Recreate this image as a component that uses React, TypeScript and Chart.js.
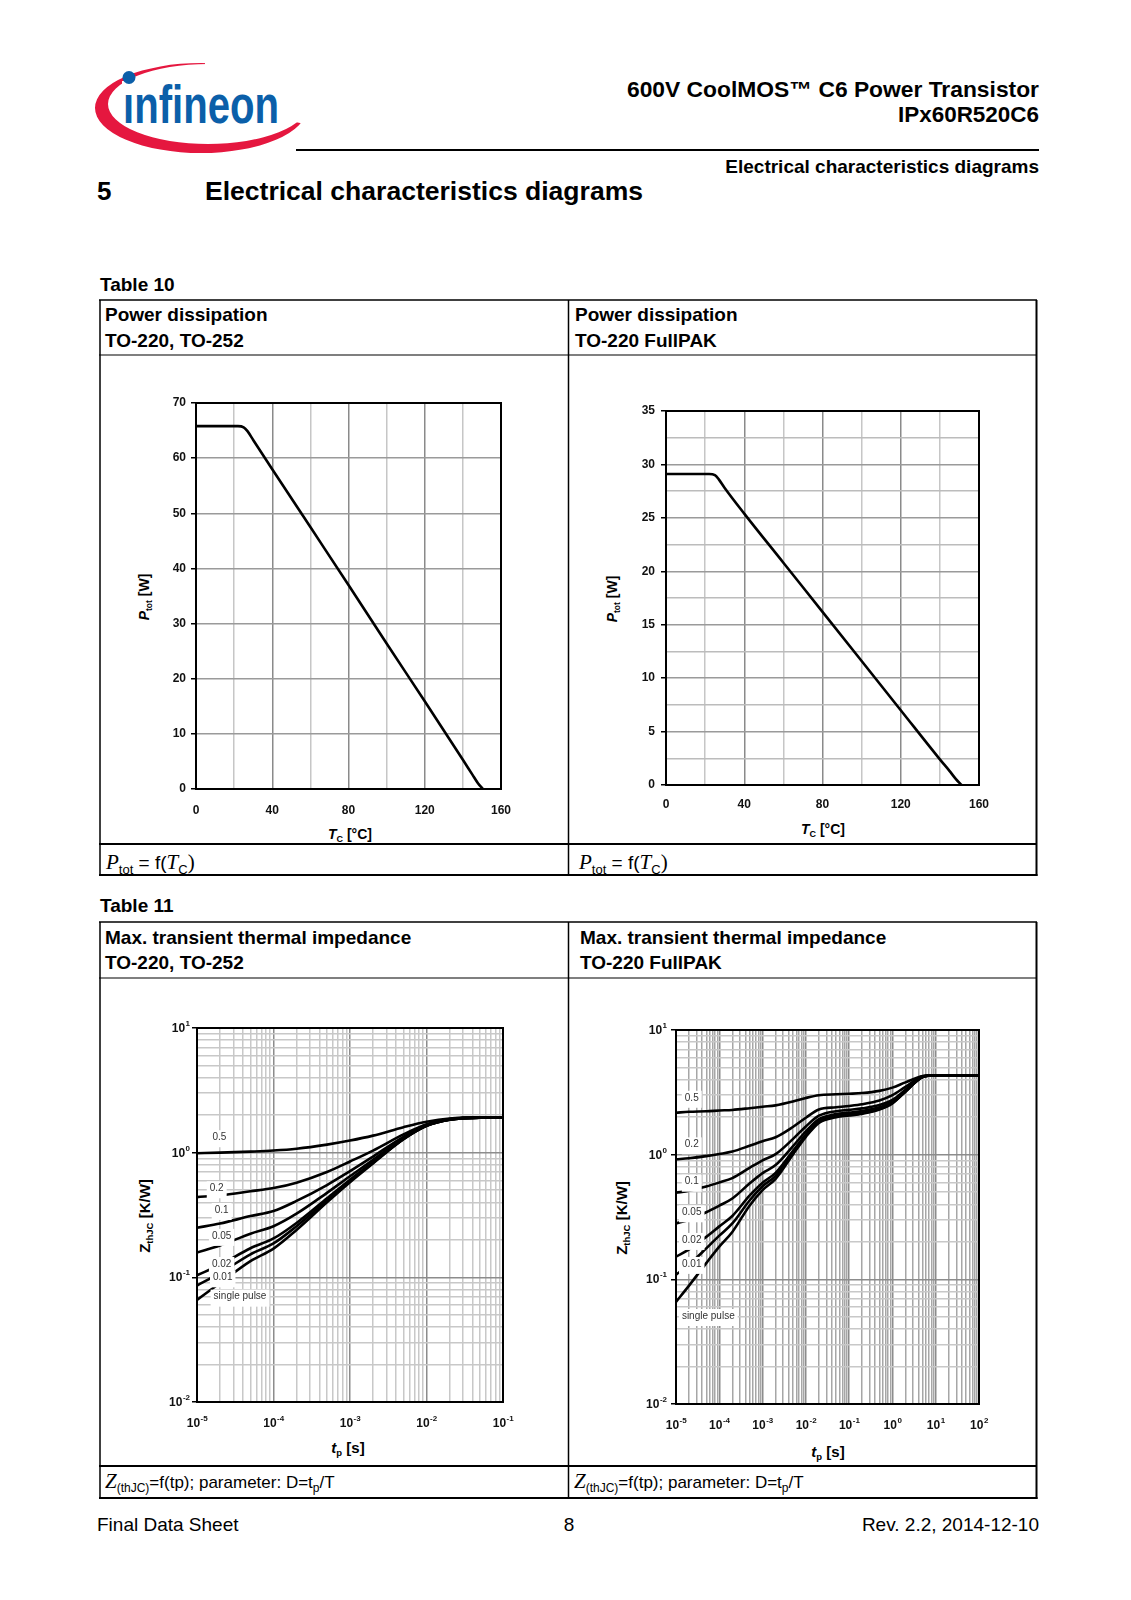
import React, { useEffect, useRef } from "react";
import { Chart, registerables } from "chart.js";

Chart.register(...registerables);

const SANS = "'Liberation Sans', Arial, Helvetica, sans-serif";
const SERIF = "'Liberation Serif', 'Times New Roman', serif";
Chart.defaults.font.family = SANS;

// ---------------- Table 10: power dissipation ----------------
const TC_TICK_LABELS = [0, 40, 80, 120, 160];

const PTOT1_TC = [0, 22, 25, 27, 30, 40, 60, 80, 100, 120, 140, 145, 148, 150.5];
const PTOT1_W = [65.8, 65.8, 65.6, 64.9, 63.3, 58.0, 47.5, 37.0, 26.4, 15.9, 5.3, 2.6, 1.0, 0];
const PTOT1_TICK_LABELS = [0, 10, 20, 30, 40, 50, 60, 70];

const PTOT2_TC = [0, 22, 25, 27, 30, 40, 60, 80, 100, 120, 140, 145, 148, 151];
const PTOT2_W = [29.1, 29.1, 29.0, 28.6, 27.8, 25.4, 20.8, 16.2, 11.6, 7.0, 2.4, 1.3, 0.6, 0];
const PTOT2_TICK_LABELS = [0, 5, 10, 15, 20, 25, 30, 35];

// ---------------- Table 11: transient thermal impedance ----------------
const D_LABELS = ["0.5", "0.2", "0.1", "0.05", "0.02", "0.01", "single pulse"];
const Y_EXPONENTS = [-2, -1, 0, 1];

// TO-220, TO-252
const X3_EXPONENTS = [-5, -4, -3, -2, -1];
const ZTH1_TP = [1e-5, 2e-5, 5e-5, 1e-4, 2e-4, 5e-4, 1e-3, 2e-3, 5e-3, 1e-2, 2e-2, 5e-2, 1e-1];
const ZTH1_D05 = [0.99, 1.0, 1.02, 1.04, 1.075, 1.16, 1.25, 1.37, 1.6, 1.77, 1.88, 1.91, 1.91];
const ZTH1_D02 = [0.44, 0.455, 0.49, 0.52, 0.575, 0.7, 0.85, 1.04, 1.4, 1.69, 1.86, 1.91, 1.91];
const ZTH1_D01 = [0.25, 0.27, 0.31, 0.34, 0.41, 0.55, 0.71, 0.93, 1.34, 1.67, 1.85, 1.91, 1.91];
const ZTH1_D005 = [0.158, 0.18, 0.224, 0.257, 0.324, 0.476, 0.647, 0.875, 1.31, 1.65, 1.845, 1.91, 1.91];
const ZTH1_D002 = [0.104, 0.126, 0.171, 0.205, 0.273, 0.43, 0.607, 0.842, 1.29, 1.645, 1.84, 1.91, 1.91];
const ZTH1_D001 = [0.086, 0.108, 0.153, 0.187, 0.257, 0.415, 0.593, 0.831, 1.285, 1.643, 1.84, 1.91, 1.91];
const ZTH1_SP = [0.066, 0.09, 0.135, 0.17, 0.24, 0.4, 0.58, 0.82, 1.28, 1.64, 1.84, 1.91, 1.91];
const LABEL1_TP = [1.96e-5, 1.81e-5, 2.1e-5, 2.1e-5, 2.1e-5, 2.17e-5, 3.65e-5];
const LABEL1_Z = [1.33, 0.518, 0.347, 0.215, 0.128, 0.1, 0.07];

// TO-220 FullPAK
const X4_EXPONENTS = [-5, -4, -3, -2, -1, 0, 1, 2];
const ZTH2_TP = [1e-5, 2e-5, 5e-5, 1e-4, 2e-4, 5e-4, 1e-3, 2e-3, 5e-3, 1e-2, 2e-2, 5e-2, 1e-1, 2e-1, 5e-1, 1, 2, 5, 10, 100];
const ZTH2_D05 = [2.17, 2.21, 2.23, 2.26, 2.285, 2.36, 2.425, 2.485, 2.665, 2.85, 3.0, 3.05, 3.08, 3.12, 3.25, 3.45, 3.8, 4.27, 4.33, 4.33];
const ZTH2_D02 = [0.918, 0.937, 0.974, 1.012, 1.058, 1.178, 1.282, 1.378, 1.666, 1.978, 2.306, 2.4, 2.46, 2.54, 2.72, 3.0, 3.5, 4.25, 4.33, 4.33];
const ZTH2_D01 = [0.495, 0.513, 0.555, 0.598, 0.649, 0.784, 0.901, 1.009, 1.333, 1.684, 2.053, 2.233, 2.287, 2.35, 2.503, 2.755, 3.313, 4.213, 4.33, 4.33];
const ZTH2_D005 = [0.281, 0.301, 0.345, 0.39, 0.445, 0.587, 0.711, 0.825, 1.167, 1.537, 1.927, 2.117, 2.174, 2.24, 2.402, 2.668, 3.257, 4.21, 4.33, 4.33];
const ZTH2_D002 = [0.152, 0.174, 0.219, 0.266, 0.322, 0.469, 0.596, 0.714, 1.067, 1.449, 1.851, 2.047, 2.105, 2.174, 2.341, 2.615, 3.223, 4.2, 4.33, 4.33];
const ZTH2_D001 = [0.109, 0.131, 0.177, 0.224, 0.281, 0.429, 0.558, 0.677, 1.033, 1.419, 1.825, 2.023, 2.083, 2.152, 2.32, 2.597, 3.211, 4.2, 4.33, 4.33];
const ZTH2_SP = [0.066, 0.089, 0.135, 0.183, 0.24, 0.39, 0.52, 0.64, 1.0, 1.39, 1.8, 2.0, 2.06, 2.13, 2.3, 2.58, 3.2, 4.2, 4.33, 4.33];
const LABEL2_TP = [2.31e-5, 2.31e-5, 2.31e-5, 2.31e-5, 2.31e-5, 2.31e-5, 5.57e-5];
const LABEL2_Z = [2.86, 1.21, 0.607, 0.345, 0.207, 0.133, 0.0508];

// ---------------- helpers ----------------
const inList = (list: number[], v: number) => list.some((l) => Math.abs(l - v) < 1e-9);
const isPow10 = (v: number) => {
  const l = Math.log10(v);
  return Math.abs(l - Math.round(l)) < 1e-6;
};
function logTickValues(a: number, b: number) {
  const out: number[] = [];
  for (let e = a; e < b; e++) for (let m = 1; m < 10; m++) out.push(Number((m * Math.pow(10, e)).toPrecision(6)));
  out.push(Math.pow(10, b));
  return out;
}

const framePlugin = {
  id: "frame",
  afterDatasetsDraw(chart: any) {
    const { ctx, chartArea: a } = chart;
    ctx.save();
    ctx.strokeStyle = "#000";
    ctx.lineWidth = 2;
    ctx.strokeRect(a.left, a.top, a.right - a.left, a.bottom - a.top);
    ctx.restore();
  },
};

function powLabels(xExps: number[], yExps: number[], yGap: number, xBase: number) {
  return {
    id: "powLabels",
    afterDraw(chart: any) {
      const { ctx, chartArea: a } = chart;
      const xs = chart.scales.x;
      const ys = chart.scales.y;
      const big = `bold 12px ${SANS}`;
      const small = `bold 8px ${SANS}`;
      ctx.save();
      ctx.fillStyle = "#111";
      ctx.textAlign = "left";
      ctx.textBaseline = "alphabetic";
      const widths = (e: number) => {
        ctx.font = big;
        const wb = ctx.measureText("10").width;
        ctx.font = small;
        const we = ctx.measureText(String(e)).width;
        return [wb, we];
      };
      const draw = (e: number, left: number, base: number, wb: number) => {
        ctx.font = big;
        ctx.fillText("10", left, base);
        ctx.font = small;
        ctx.fillText(String(e), left + wb + 0.5, base - 6);
      };
      for (const e of yExps) {
        const y = ys.getPixelForValue(Math.pow(10, e));
        const [wb, we] = widths(e);
        draw(e, a.left - yGap - we - wb - 0.5, y + 4, wb);
      }
      for (const e of xExps) {
        const x = xs.getPixelForValue(Math.pow(10, e));
        const [wb, we] = widths(e);
        draw(e, x - (wb + we) / 2, a.bottom + xBase, wb);
      }
      ctx.restore();
    },
  };
}

function curveLabels(labels: string[], lx: number[], ly: number[]) {
  return {
    id: "curveLabels",
    afterDraw(chart: any) {
      const { ctx } = chart;
      const xs = chart.scales.x;
      const ys = chart.scales.y;
      ctx.save();
      ctx.font = `10px ${SANS}`;
      ctx.textAlign = "center";
      ctx.textBaseline = "middle";
      labels.forEach((t, i) => {
        const px = xs.getPixelForValue(lx[i]);
        const py = ys.getPixelForValue(ly[i]);
        const w = ctx.measureText(t).width;
        ctx.fillStyle = "#fff";
        ctx.fillRect(px - w / 2 - 3, py - 7, w + 6, 17);
        ctx.fillStyle = "#333";
        ctx.fillText(t, px, py);
      });
      ctx.restore();
    },
  };
}

const tickFont = { family: SANS, size: 12, weight: "bold" as const };

function powerConfig(o: {
  tc: number[];
  p: number[];
  yMax: number;
  yStep: number;
  yLabels: number[];
  yMinor: string;
  pad: number;
  yWidth: number;
  xHeight: number;
  xDrop: number;
  yPad: number;
}): any {
  return {
    type: "line",
    data: {
      datasets: [
        {
          data: o.tc.map((x, i) => ({ x, y: o.p[i] })),
          borderColor: "#000",
          borderWidth: 2.6,
          pointRadius: 0,
          cubicInterpolationMode: "monotone",
          fill: false,
        },
      ],
    },
    options: {
      responsive: false,
      animation: false,
      devicePixelRatio: 1,
      layout: { padding: { left: 0, top: o.pad, right: o.pad, bottom: 0 } },
      plugins: { legend: { display: false }, tooltip: { enabled: false } },
      scales: {
        x: {
          type: "linear",
          min: 0,
          max: 160,
          border: { display: false },
          ticks: {
            stepSize: 20,
            autoSkip: false,
            maxRotation: 0,
            padding: 0,
            color: "#111",
            font: tickFont,
            callback: (v: number) => (inList(TC_TICK_LABELS, v) ? String(v) : ""),
          },
          grid: {
            drawTicks: true,
            tickLength: o.xDrop,
            tickColor: "rgba(0,0,0,0)",
            lineWidth: 1.5,
            color: (c: any) => (c.tick && inList(TC_TICK_LABELS, c.tick.value) ? "#8a8a8a" : "#c6c6c6"),
          },
          afterFit: (s: any) => {
            s.height = o.xHeight;
          },
        },
        y: {
          type: "linear",
          min: 0,
          max: o.yMax,
          border: { display: false },
          ticks: {
            stepSize: o.yStep,
            autoSkip: false,
            padding: o.yPad,
            color: "#111",
            font: tickFont,
            callback: (v: number) => (inList(o.yLabels, v) ? String(v) : ""),
          },
          grid: {
            tickLength: 5,
            lineWidth: 1.5,
            color: (c: any) => (c.tick && inList(o.yLabels, c.tick.value) ? "#9a9a9a" : o.yMinor),
            tickColor: (c: any) => (c.tick && inList(o.yLabels, c.tick.value) ? "#000" : "rgba(0,0,0,0)"),
          },
          afterFit: (s: any) => {
            s.width = o.yWidth;
          },
        },
      },
    },
    plugins: [framePlugin],
  };
}

function zthConfig(o: {
  tp: number[];
  series: number[][];
  xExps: number[];
  pad: number;
  yWidth: number;
  xHeight: number;
  yGap: number;
  xMinor: string;
  lx: number[];
  ly: number[];
}): any {
  const xMinExp = o.xExps[0];
  const xMaxExp = o.xExps[o.xExps.length - 1];
  const xTicks = logTickValues(xMinExp, xMaxExp);
  const yTicks = logTickValues(Y_EXPONENTS[0], Y_EXPONENTS[Y_EXPONENTS.length - 1]);
  return {
    type: "line",
    data: {
      datasets: o.series.map((s) => ({
        data: o.tp.map((x, i) => ({ x, y: s[i] })),
        borderColor: "#000",
        borderWidth: 2.6,
        pointRadius: 0,
        cubicInterpolationMode: "monotone",
        fill: false,
      })),
    },
    options: {
      responsive: false,
      animation: false,
      devicePixelRatio: 1,
      layout: { padding: { left: 0, top: o.pad, right: o.pad, bottom: 0 } },
      plugins: { legend: { display: false }, tooltip: { enabled: false } },
      scales: {
        x: {
          type: "logarithmic",
          min: Math.pow(10, xMinExp),
          max: Math.pow(10, xMaxExp),
          border: { display: false },
          afterBuildTicks: (s: any) => {
            s.ticks = xTicks.map((v) => ({ value: v }));
          },
          ticks: { display: false },
          grid: {
            drawTicks: false,
            lineWidth: 1.5,
            color: (c: any) => (c.tick && isPow10(c.tick.value) ? "#8c8c8c" : o.xMinor),
          },
          afterFit: (s: any) => {
            s.height = o.xHeight;
          },
        },
        y: {
          type: "logarithmic",
          min: Math.pow(10, Y_EXPONENTS[0]),
          max: Math.pow(10, Y_EXPONENTS[Y_EXPONENTS.length - 1]),
          border: { display: false },
          afterBuildTicks: (s: any) => {
            s.ticks = yTicks.map((v) => ({ value: v }));
          },
          ticks: { display: false },
          grid: {
            drawTicks: true,
            tickLength: 5,
            lineWidth: 1.5,
            color: (c: any) => (c.tick && isPow10(c.tick.value) ? "#8c8c8c" : "#c8c8c8"),
            tickColor: (c: any) => (c.tick && isPow10(c.tick.value) ? "#000" : "rgba(0,0,0,0)"),
          },
          afterFit: (s: any) => {
            s.width = o.yWidth;
          },
        },
      },
    },
    plugins: [framePlugin, powLabels(o.xExps, Y_EXPONENTS, o.yGap, 25), curveLabels(D_LABELS, o.lx, o.ly)],
  };
}

// chart areas: (196,403)-(501,789), (666,411)-(979,785), (197,1028)-(503,1402), (676,1030)-(979,1404)
const makePower1 = () =>
  powerConfig({
    tc: PTOT1_TC,
    p: PTOT1_W,
    yMax: 70,
    yStep: 10,
    yLabels: PTOT1_TICK_LABELS,
    yMinor: "#c4c4c4",
    pad: 30,
    yWidth: 46,
    xHeight: 41,
    xDrop: 14,
    yPad: 5,
  });

const makePower2 = () =>
  powerConfig({
    tc: PTOT2_TC,
    p: PTOT2_W,
    yMax: 35,
    yStep: 2.5,
    yLabels: PTOT2_TICK_LABELS,
    yMinor: "#bcbcbc",
    pad: 30,
    yWidth: 46,
    xHeight: 53,
    xDrop: 12,
    yPad: 6,
  });

const makeZth1 = () =>
  zthConfig({
    tp: ZTH1_TP,
    series: [ZTH1_D05, ZTH1_D02, ZTH1_D01, ZTH1_D005, ZTH1_D002, ZTH1_D001, ZTH1_SP],
    xExps: X3_EXPONENTS,
    pad: 30,
    yWidth: 77,
    xHeight: 58,
    yGap: 7,
    xMinor: "#c8c8c8",
    lx: LABEL1_TP,
    ly: LABEL1_Z,
  });

const makeZth2 = () =>
  zthConfig({
    tp: ZTH2_TP,
    series: [ZTH2_D05, ZTH2_D02, ZTH2_D01, ZTH2_D005, ZTH2_D002, ZTH2_D001, ZTH2_SP],
    xExps: X4_EXPONENTS,
    pad: 30,
    yWidth: 76,
    xHeight: 56,
    yGap: 9,
    xMinor: "#a6a6a6",
    lx: LABEL2_TP,
    ly: LABEL2_Z,
  });

function ChartCanvas({ left, top, width, height, make }: any) {
  const ref = useRef<HTMLCanvasElement | null>(null);
  useEffect(() => {
    if (!ref.current) return;
    const chart = new Chart(ref.current, make());
    return () => chart.destroy();
  }, [make]);
  return (
    <canvas
      ref={ref}
      width={width}
      height={height}
      style={{ position: "absolute", left, top, width, height }}
    />
  );
}

const NB = "\u00a0";

function YTitle({ cx, cy, main, sub, rest, italic, size, subSize }: any) {
  return (
    <text
      transform={`translate(${cx},${cy}) rotate(-90)`}
      x={0}
      y={5}
      textAnchor="middle"
      fontSize={size}
      fontWeight="bold"
    >
      <tspan fontStyle={italic ? "italic" : "normal"}>{main}</tspan>
      <tspan fontSize={subSize} dy={3}>{sub}</tspan>
      <tspan dy={-3}>{NB + rest}</tspan>
    </text>
  );
}

function XTitle({ cx, cy, main, sub, rest, size, subSize }: any) {
  return (
    <text x={cx} y={cy + 5} textAnchor="middle" fontSize={size} fontWeight="bold">
      <tspan fontStyle="italic">{main}</tspan>
      <tspan fontSize={subSize} dy={3}>{sub}</tspan>
      <tspan dy={-3}>{NB + rest}</tspan>
    </text>
  );
}

function PtotFooter({ x, y }: any) {
  return (
    <text x={x} y={y} fontSize={19}>
      <tspan fontFamily={SERIF} fontStyle="italic" fontSize={21}>P</tspan>
      <tspan fontSize={13} dy={5}>tot</tspan>
      <tspan dy={-5}>{NB + "=" + NB + "f("}</tspan>
      <tspan fontFamily={SERIF} fontStyle="italic" fontSize={21}>T</tspan>
      <tspan fontSize={13} dy={5}>C</tspan>
      <tspan dy={-5} fontFamily={SERIF} fontSize={21}>)</tspan>
    </text>
  );
}

function ZthFooter({ x, y }: any) {
  return (
    <text x={x} y={y} fontSize={17}>
      <tspan fontFamily={SERIF} fontStyle="italic" fontSize={21}>Z</tspan>
      <tspan fontSize={12} dy={4}>(thJC)</tspan>
      <tspan dy={-4}>=f(tp); parameter: D=t</tspan>
      <tspan fontSize={12} dy={4}>p</tspan>
      <tspan dy={-4}>/T</tspan>
    </text>
  );
}

function PageSvg() {
  const blue = "#0b5fa9";
  return (
    <svg
      width={1131}
      height={1600}
      style={{ position: "absolute", left: 0, top: 0 }}
      fontFamily={SANS}
      fill="#000"
    >
      <defs>
        <clipPath id="swooshClip">
          <polygon points="80,40 205,40 205,104 330,129 330,175 80,175" />
        </clipPath>
      </defs>
      {/* logo */}
      <path
        d="M95,108 a106,45 0 1,0 212,0 a106,45 0 1,0 -212,0 Z M108,104 a100,40 0 1,0 200,0 a100,40 0 1,0 -200,0 Z"
        fill="#e5173f"
        fillRule="evenodd"
        clipPath="url(#swooshClip)"
      />
      <text
        x={123}
        y={123}
        fontSize={54}
        fontWeight="bold"
        fill={blue}
        textLength={156}
        lengthAdjust="spacingAndGlyphs"
      >
        infineon
      </text>
      <rect x={122} y={81} width={13} height={13.5} fill="#fff" />
      <circle cx={129} cy={77.5} r={6.5} fill={blue} />

      {/* header */}
      <text x={1039} y={97} fontSize={22} fontWeight="bold" textAnchor="end" textLength={412} lengthAdjust="spacingAndGlyphs">
        600V CoolMOS™ C6 Power Transistor
      </text>
      <text x={1039} y={122} fontSize={22} fontWeight="bold" textAnchor="end" textLength={141} lengthAdjust="spacingAndGlyphs">
        IPx60R520C6
      </text>
      <line x1={296} y1={150} x2={1039} y2={150} stroke="#000" strokeWidth={2} />
      <text x={1039} y={173} fontSize={19} fontWeight="bold" textAnchor="end">
        Electrical characteristics diagrams
      </text>
      <text x={97} y={200} fontSize={26} fontWeight="bold">5</text>
      <text x={205} y={200} fontSize={26} fontWeight="bold" textLength={438} lengthAdjust="spacingAndGlyphs">
        Electrical characteristics diagrams
      </text>

      {/* Table 10 */}
      <text x={100} y={291} fontSize={19} fontWeight="bold">Table 10</text>
      <g stroke="#000" fill="none">
        <line x1={99} y1={300} x2={1037} y2={300} strokeWidth={1.5} />
        <line x1={99} y1={355} x2={1037} y2={355} strokeWidth={1.2} />
        <line x1={99} y1={844} x2={1037} y2={844} strokeWidth={2} />
        <line x1={99} y1={875} x2={1037.5} y2={875} strokeWidth={2} />
        <line x1={100} y1={300} x2={100} y2={876} strokeWidth={1.5} />
        <line x1={568.5} y1={300} x2={568.5} y2={876} strokeWidth={1.5} />
        <line x1={1036.5} y1={300} x2={1036.5} y2={876} strokeWidth={2} />
      </g>
      <text x={105} y={321} fontSize={19} fontWeight="bold">Power dissipation</text>
      <text x={105} y={347} fontSize={19} fontWeight="bold">TO-220, TO-252</text>
      <text x={575} y={321} fontSize={19} fontWeight="bold">Power dissipation</text>
      <text x={575} y={347} fontSize={19} fontWeight="bold">TO-220 FullPAK</text>
      <PtotFooter x={106} y={869} />
      <PtotFooter x={579} y={869} />

      <YTitle cx={144} cy={597} main="P" sub="tot" rest="[W]" italic size={14} subSize={8.5} />
      <XTitle cx={350} cy={834} main="T" sub="C" rest="[°C]" size={14} subSize={9} />
      <YTitle cx={612} cy={599} main="P" sub="tot" rest="[W]" italic size={14} subSize={8.5} />
      <XTitle cx={823} cy={829} main="T" sub="C" rest="[°C]" size={14} subSize={9} />

      {/* Table 11 */}
      <text x={100} y={912} fontSize={19} fontWeight="bold">Table 11</text>
      <g stroke="#000" fill="none">
        <line x1={99} y1={922} x2={1037} y2={922} strokeWidth={1.5} />
        <line x1={99} y1={978} x2={1037} y2={978} strokeWidth={1.2} />
        <line x1={99} y1={1466} x2={1037} y2={1466} strokeWidth={2} />
        <line x1={99} y1={1498} x2={1037.5} y2={1498} strokeWidth={2} />
        <line x1={100} y1={922} x2={100} y2={1499} strokeWidth={1.5} />
        <line x1={568.5} y1={922} x2={568.5} y2={1499} strokeWidth={1.5} />
        <line x1={1036.5} y1={922} x2={1036.5} y2={1499} strokeWidth={2} />
      </g>
      <text x={105} y={944} fontSize={19} fontWeight="bold">Max. transient thermal impedance</text>
      <text x={105} y={969} fontSize={19} fontWeight="bold">TO-220, TO-252</text>
      <text x={580} y={944} fontSize={19} fontWeight="bold">Max. transient thermal impedance</text>
      <text x={580} y={969} fontSize={19} fontWeight="bold">TO-220 FullPAK</text>
      <ZthFooter x={105} y={1488} />
      <ZthFooter x={574} y={1488} />

      <YTitle cx={145} cy={1216} main="Z" sub="thJC" rest="[K/W]" italic={false} size={15} subSize={9.5} />
      <XTitle cx={348} cy={1448} main="t" sub="p" rest="[s]" size={15} subSize={9.5} />
      <YTitle cx={622} cy={1218} main="Z" sub="thJC" rest="[K/W]" italic={false} size={15} subSize={9.5} />
      <XTitle cx={828} cy={1452} main="t" sub="p" rest="[s]" size={15} subSize={9.5} />

      {/* page footer */}
      <text x={97} y={1531} fontSize={19}>Final Data Sheet</text>
      <text x={569} y={1531} fontSize={19} textAnchor="middle">8</text>
      <text x={1039} y={1531} fontSize={19} textAnchor="end">Rev. 2.2, 2014-12-10</text>
    </svg>
  );
}

export default function App() {
  return (
    <div
      style={{
        position: "absolute",
        left: 0,
        top: 0,
        width: 1131,
        height: 1600,
        background: "#fff",
        overflow: "hidden",
      }}
    >
      <PageSvg />
      <ChartCanvas left={150} top={373} width={381} height={457} make={makePower1} />
      <ChartCanvas left={620} top={381} width={389} height={457} make={makePower2} />
      <ChartCanvas left={120} top={998} width={413} height={462} make={makeZth1} />
      <ChartCanvas left={600} top={1000} width={409} height={460} make={makeZth2} />
    </div>
  );
}
